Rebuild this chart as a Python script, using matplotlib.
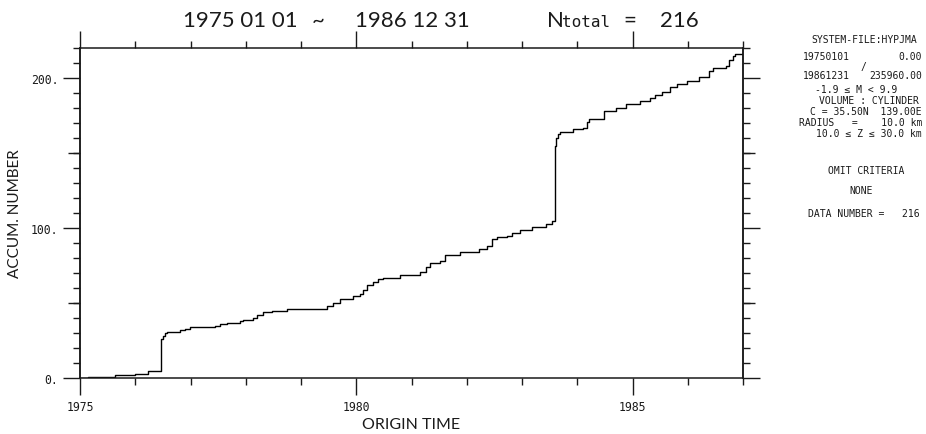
import matplotlib
matplotlib.use("Agg")
import matplotlib.pyplot as plt
from matplotlib.ticker import MultipleLocator, FixedLocator, FuncFormatter, NullLocator

# cumulative number of events, stepping up at each origin time (decimal year)
event_years = [1975.00, 1975.14, 1975.63, 1975.99, 1976.23, 1976.46, 1976.50, 1976.54,
               1976.58, 1976.81, 1976.90, 1976.99, 1977.44, 1977.53, 1977.66, 1977.89,
               1977.95, 1978.13, 1978.20, 1978.31, 1978.47, 1978.74, 1979.47, 1979.58,
               1979.70, 1979.94, 1980.06, 1980.12, 1980.19, 1980.30, 1980.39, 1980.48,
               1980.79, 1981.15, 1981.27, 1981.33, 1981.51, 1981.60, 1981.87, 1982.23,
               1982.36, 1982.45, 1982.54, 1982.72, 1982.81, 1982.96, 1983.19, 1983.44,
               1983.55, 1983.60, 1983.62, 1983.65, 1983.68, 1983.81, 1983.92, 1984.10,
               1984.17, 1984.22, 1984.49, 1984.71, 1984.89, 1985.13, 1985.31, 1985.40,
               1985.54, 1985.67, 1985.80, 1985.98, 1986.21, 1986.39, 1986.45, 1986.70,
               1986.75, 1986.81, 1986.86, 1987.00]
event_counts = [0, 1, 2, 3, 5, 26, 28, 30,
                31, 32, 33, 34, 35, 36, 37, 38,
                39, 40, 42, 44, 45, 46, 48, 50,
                53, 55, 56, 59, 62, 64, 66, 67,
                69, 71, 74, 77, 78, 82, 84, 86,
                88, 93, 94, 95, 97, 99, 101, 103,
                105, 155, 160, 163, 164, 164, 166, 167,
                171, 173, 178, 180, 183, 185, 187, 189,
                191, 194, 196, 198, 201, 205, 207, 208,
                212, 215, 216, 216]

year_ticks = [1975, 1980, 1985]
count_ticks = [0, 100, 200]
mid_ticks = [50, 150]

info_lines = [
    ("SYSTEM-FILE:HYPJMA", 864, 40, "center"),
    ("19750101", 803, 57, "left"),
    ("0.00", 922, 57, "right"),
    ("/", 863, 67, "center"),
    ("19861231", 803, 76, "left"),
    ("235960.00", 922, 76, "right"),
    ("-1.9 \u2264 M < 9.9", 856, 90, "center"),
    ("VOLUME : CYLINDER", 869, 101, "center"),
    ("C = 35.50N  139.00E", 922, 112, "right"),
    ("RADIUS   =    10.0 km", 922, 123, "right"),
    ("10.0 \u2264 Z \u2264 30.0 km", 922, 134, "right"),
    ("OMIT CRITERIA", 866, 171, "center"),
    ("NONE", 861, 191, "center"),
    ("DATA NUMBER =   216", 864, 214, "center"),
]

INK = "#1a1a1a"
FONT = ["Lato", "DejaVu Sans"]
MONO = ["DejaVu Sans Mono"]

W, H = 926, 435
fig = plt.figure(figsize=(W / 100, H / 100), dpi=100)
ax = fig.add_axes([80 / W, 1 - 379 / H, 663 / W, 330 / H])

ax.step(event_years, event_counts, where="post", color="black", lw=1.0)

ax.set_xlim(1975, 1987)
ax.set_ylim(0, 220)

ax.xaxis.set_major_locator(FixedLocator(year_ticks))
ax.xaxis.set_minor_locator(MultipleLocator(1))
ax.yaxis.set_major_locator(FixedLocator(count_ticks))
ax.yaxis.set_minor_locator(MultipleLocator(10))
ax.yaxis.set_major_formatter(FuncFormatter(lambda v, p: f"{v:.0f}."))

ax.tick_params(which="both", direction="out", top=True, right=True,
               width=1.0, colors=INK, labelsize=8.3)
ax.tick_params(which="major", length=12.2)
ax.tick_params(which="minor", length=5)
for lab in ax.get_xticklabels() + ax.get_yticklabels():
    lab.set_family(MONO)
for s in ax.spines.values():
    s.set_linewidth(1.1)
    s.set_color(INK)

# medium-length ticks at 50 and 150 on both sides
for side in ("left", "right"):
    sec = ax.secondary_yaxis(side)
    sec.yaxis.set_major_locator(FixedLocator(mid_ticks))
    sec.yaxis.set_minor_locator(NullLocator())
    sec.tick_params(length=8.6, width=1.0, colors=INK,
                    labelleft=False, labelright=False)
    sec.spines[side].set_linewidth(1.1)
    sec.spines[side].set_color(INK)

ax.set_xlabel("ORIGIN TIME", fontsize=11.5, color=INK, labelpad=3, family=FONT)
ax.set_ylabel("ACCUM. NUMBER", fontsize=11, color=INK, labelpad=6, family=FONT)

def ftext(x, y, s, family=FONT, **kw):
    fig.text(x / W, 1 - y / H, s, color=INK, family=family, **kw)

# heading
ftext(183, 27, "1975 01 01", fontsize=16, va="baseline")
ftext(318, 27, "~", fontsize=16, va="baseline", ha="center")
ftext(355, 27, "1986 12 31", fontsize=16, va="baseline")
ftext(547, 27, "N", fontsize=16, va="baseline")
ftext(562, 27, "total", family=MONO, fontsize=11.5, va="baseline")
ftext(630, 27, "=", fontsize=16, va="baseline", ha="center")
ftext(660, 27, "216", fontsize=16, va="baseline")

# search conditions listed beside the plot
for s, x, y, ha in info_lines:
    ftext(x, y, s, family=MONO, fontsize=7.0, va="center", ha=ha)

fig.savefig("out.png", dpi=100, facecolor="white")
